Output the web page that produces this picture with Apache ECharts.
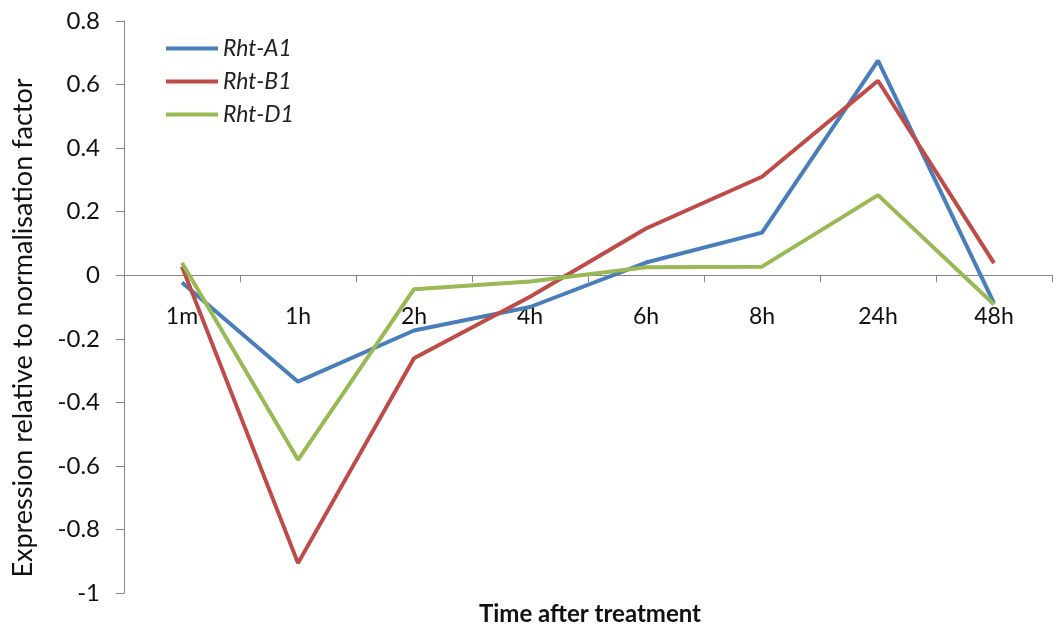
<!DOCTYPE html>
<html>
<head>
<meta charset="utf-8">
<script src="https://cdn.jsdelivr.net/npm/echarts@6/dist/echarts.min.js"></script>
<style>
html,body{margin:0;padding:0;background:#fff;}
#chart{width:1062px;height:631px;}
</style>
</head>
<body>
<div id="chart"></div>
<script>
var categories = ['1m', '1h', '2h', '4h', '6h', '8h', '24h', '48h'];
var rhtA1 = [-0.023, -0.335, -0.174, -0.100, 0.040, 0.134, 0.675, -0.088];
var rhtB1 = [0.027, -0.906, -0.261, -0.068, 0.147, 0.310, 0.612, 0.038];
var rhtD1 = [0.039, -0.581, -0.044, -0.020, 0.025, 0.027, 0.252, -0.092];
var yTicks = { min: -1, max: 0.8, interval: 0.2 };

var chart = echarts.init(document.getElementById('chart'));
var font = 'Lato, "Open Sans", sans-serif';
var gridTop = 21, gridBottom = 38, H = 631;
var plotH = H - gridTop - gridBottom;
var zeroOffset = plotH * (0 - yTicks.min) / (yTicks.max - yTicks.min);

function mkSeries(name, data, color) {
  return {
    name: name, type: 'line', data: data, symbol: 'none',
    lineStyle: { color: color, width: 4 }, itemStyle: { color: color },
    emphasis: { disabled: true }
  };
}
chart.setOption({
  animation: false,
  backgroundColor: '#ffffff',
  grid: { left: 124, right: 10, top: gridTop, bottom: gridBottom, containLabel: false, outerBoundsMode: 'none' },
  legend: {
    orient: 'vertical', left: 161, top: 32,
    itemWidth: 52, itemHeight: 14, itemGap: 10,
    icon: 'path://M0,5 L52,5 L52,9 L0,9 Z',
    textStyle: { fontFamily: font, fontStyle: 'italic', fontSize: 23, lineHeight: 22, color: '#222' },
    data: ['Rht-A1', 'Rht-B1', 'Rht-D1']
  },
  xAxis: {
    type: 'category', data: categories, boundaryGap: true,
    position: 'bottom', offset: -zeroOffset,
    axisLine: { onZero: false, lineStyle: { color: '#868686', width: 1 } },
    axisTick: { show: true, length: 7, inside: false, lineStyle: { color: '#868686' } },
    axisLabel: { fontFamily: font, fontSize: 23, color: '#111', margin: 30 },
    splitLine: { show: false }
  },
  yAxis: {
    type: 'value', min: yTicks.min, max: yTicks.max, interval: yTicks.interval,
    axisLine: { show: true, lineStyle: { color: '#868686', width: 1 } },
    axisTick: { show: true, length: 8, lineStyle: { color: '#868686' } },
    axisLabel: {
      fontFamily: font, fontSize: 24, color: '#111', margin: 24,
      formatter: function (v) { return String(Math.round(v * 10) / 10); }
    },
    splitLine: { show: false }
  },
  graphic: [
    {
      type: 'text', x: 23, y: 328, rotation: Math.PI / 2,
      style: {
        text: 'Expression relative to normalisation factor',
        fontFamily: font, fontSize: 27, fill: '#111',
        align: 'center', verticalAlign: 'middle'
      }
    },
    {
      type: 'text', x: 590, y: 614,
      style: {
        text: 'Time after treatment',
        fontFamily: font, fontSize: 24, fontWeight: 'bold', fill: '#111',
        align: 'center', verticalAlign: 'middle'
      }
    }
  ],
  series: [
    mkSeries('Rht-A1', rhtA1, '#4A7EBB'),
    mkSeries('Rht-B1', rhtB1, '#BE4B48'),
    mkSeries('Rht-D1', rhtD1, '#98B954')
  ]
});
</script>
</body>
</html>
